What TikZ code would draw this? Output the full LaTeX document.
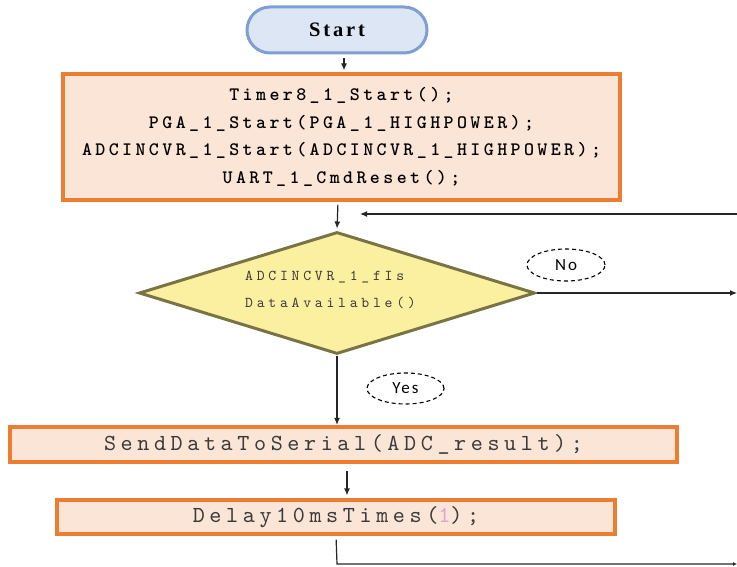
\documentclass[tikz,border=0pt]{standalone}
\usepackage{fontspec}
\usetikzlibrary{shapes.geometric,arrows.meta}
\newfontfamily\codebox{lmmonolt10-bold.otf}[LetterSpace=18]
\newfontfamily\codereg{lmmono10-regular.otf}[LetterSpace=20]
\newfontfamily\codedia{lmmono10-regular.otf}[LetterSpace=25]
\newfontfamily\startfont{Liberation Serif}[LetterSpace=14]
\newfontfamily\lblfont{Carlito}[LetterSpace=12]
\definecolor{peach}{HTML}{FBE5D6}
\definecolor{orangeb}{HTML}{ED7D31}
\definecolor{startfill}{HTML}{DDE6F4}
\definecolor{startline}{HTML}{7F9ED6}
\definecolor{diafill}{HTML}{FBEFA0}
\definecolor{dialine}{HTML}{7A7445}
\definecolor{codegray}{HTML}{3A3A3A}
\definecolor{lilac}{HTML}{D9A6D3}
\definecolor{conn}{HTML}{262626}
\tikzset{
  terminal/.style={draw=startline, fill=startfill, line width=3pt, rounded corners=23pt,
    minimum width=180pt, minimum height=46pt, inner sep=0pt, font=\startfont\bfseries\fontsize{20.5}{20.5}\selectfont},
  procbox/.style={draw=orangeb, fill=peach, line width=3.2pt, inner sep=0pt},
  decision/.style={diamond, draw=dialine, fill=diafill, line width=3pt, inner sep=0pt,
    minimum width=396pt, minimum height=122pt},
  dectext/.style={align=left, text=codegray, inner sep=0pt,
    font=\codedia\fontsize{15}{27}\selectfont},
  tag/.style={ellipse, draw=black, dashed, dash pattern=on 4pt off 3pt, line width=1.1pt,
    inner sep=0pt, font=\lblfont\fontsize{17}{17}\selectfont},
  arr/.style={draw=conn, line width=1.2pt, -{Latex[length=7pt,width=6pt]}},
  plain/.style={draw=conn, line width=1.2pt}
}
\begin{document}
\begin{tikzpicture}[x=1pt,y=-1pt]
\useasboundingbox (0,0) rectangle (737,567);
\node[terminal] (start) at (337,30) {Start};
\node[procbox, minimum width=557pt, minimum height=126pt, align=center,
  font=\codebox\fontsize{19}{27.5}\selectfont] (init) at (341.5,137)
  {Timer8\_1\_Start();\\PGA\_1\_Start(PGA\_1\_HIGHPOWER);\\ADCINCVR\_1\_Start(ADCINCVR\_1\_HIGHPOWER);\\UART\_1\_CmdReset();};
\node[decision] (dec) at (337,293) {};
\node[dectext, anchor=west] (dectxt) at (245,290) {ADCINCVR\_1\_fIs\\DataAvailable()};
\node[procbox, minimum width=667pt, minimum height=35pt, text=codegray,
  font=\codereg\fontsize{23}{23}\selectfont] (send) at (343.5,444.5) {SendDataToSerial(ADC\_result);};
\node[procbox, minimum width=558pt, minimum height=34pt, text=codegray,
  font=\codereg\fontsize{23}{23}\selectfont] (delay) at (336,517) {Delay10msTimes(\textcolor{lilac}{1});};
\node[tag, minimum width=78pt, minimum height=32pt] (no) at (566,265) {No};
\node[tag, minimum width=77pt, minimum height=31pt] (yes) at (405.5,388.5) {Yes};
\coordinate (loopin) at (737,214);
\coordinate (loopend) at (360,214);
\coordinate (noend) at (737,293);
\coordinate (bend) at (337,564);
\coordinate (botend) at (737,564);
\draw[arr, shorten <=4pt, shorten >=2pt] ([xshift=7pt]start.south) -- ([xshift=7pt]start.south |- init.north);
\draw[arr, shorten <=3pt, shorten >=2pt] ([xshift=-3.5pt]init.south) -- (dec.north);
\draw[arr] (loopin) -- (loopend);
\draw[arr] (dec.east) -- (noend);
\draw[arr, shorten >=0.5pt] (dec.south) -- (dec.south |- send.north);
\draw[arr, shorten <=7pt, shorten >=3pt] ([xshift=3.5pt]send.south) -- ([xshift=3.5pt]send.south |- delay.north);
\draw[plain, -{Latex[length=4pt,width=4pt]}, shorten <=4pt] (delay.south) -- (bend) -- (botend);
\end{tikzpicture}
\end{document}
